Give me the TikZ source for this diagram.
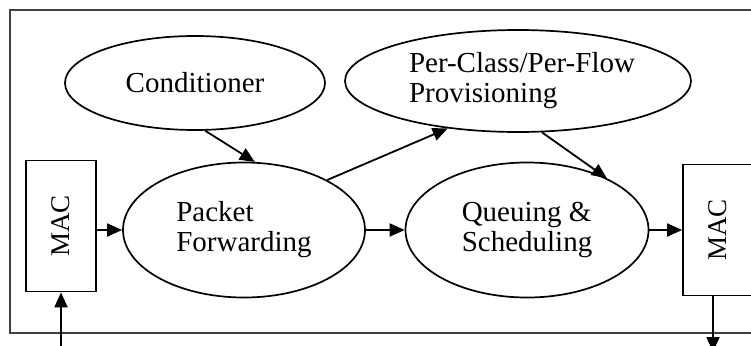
\documentclass[tikz,border=0pt]{standalone}
\usepackage{fontspec}
\setmainfont{Liberation Serif}
\usepackage{graphicx}
\usetikzlibrary{shapes.geometric,arrows.meta}

\begin{document}
\begin{tikzpicture}[x=1pt,y=1pt,
    proc/.style={draw,ellipse,line width=1.7pt,inner sep=0pt,align=left,
      font=\fontsize{29}{30}\selectfont},
    macbox/.style={draw,rectangle,line width=1.7pt,minimum width=70pt,
      minimum height=131pt,inner sep=0pt,font=\fontsize{27}{28}\selectfont},
    flow/.style={line width=1.8pt,-{Triangle[length=15pt,width=13pt]}}]
    \useasboundingbox (0,0) rectangle (751,-345);

    % Frame
    \draw[line width=1.7pt,black!75] (10,-10) rectangle (765,-333);

    % Processing blocks
    \node[proc,minimum width=260pt,minimum height=94pt] (cond) at (195,-83) {Conditioner};
    \node[proc,minimum width=346pt,minimum height=102pt] (prov) at (518,-81)
      {\hspace*{8pt}Per-Class/Per-Flow\\\hspace*{8pt}Provisioning};
    \node[proc,minimum width=242pt,minimum height=135pt] (pf) at (244,-230)
      {Packet\\Forwarding};
    \node[proc,minimum width=243pt,minimum height=135pt] (qs) at (527,-230)
      {Queuing \&\\Scheduling};

    % MAC interfaces
    \node[macbox] (lmac) at (61,-226) {\rotatebox{90}{MAC}};
    \node[macbox] (rmac) at (718,-230) {\rotatebox{90}{MAC}};
    \coordinate (in) at (61,-352);
    \coordinate (out) at (713,-352);

    % Flows
    \draw[flow] (in) -- (lmac.south);
    \draw[flow] (lmac.east |- pf.west) -- (pf.west);
    \draw[flow] (cond.-78) -- (pf.81);
    \draw[flow] (pf.31) -- (prov.-146);
    \draw[flow] (prov.-65) -- (qs.33);
    \draw[flow] (pf) -- (qs);
    \draw[flow] (qs.east) -- (qs.east -| rmac.west);
    \draw[flow] (rmac.south -| out) -- (out);
\end{tikzpicture}
\end{document}
